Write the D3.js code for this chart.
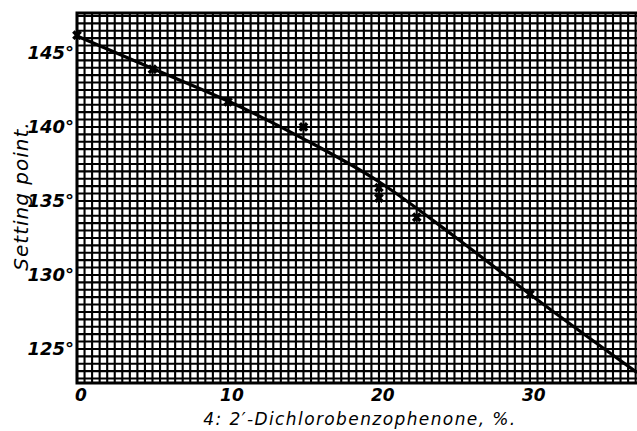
<!DOCTYPE html>
<html>
<head>
    <meta charset="utf-8">
    <script src="https://d3js.org/d3.v7.min.js"></script>
    <style>
        body { margin: 0; background: #fff; }
        text { font-family: "DejaVu Sans", sans-serif; font-style: italic; fill: #000; }
    </style>
</head>
<body>
<div id="chart"></div>
<script>
    // measured points (percent, setting point in degrees)
    var pctValues = [0, 5, 10, 15, 20, 20, 22.5, 30];
    var setValues = [146.2, 143.9, 141.7, 140.0, 135.9, 135.2, 133.9, 128.7];

    // drawn curve
    var curvePct = [0, 5, 10, 15, 20, 25, 30, 37.1];
    var curveSet = [146.15, 143.95, 141.75, 139.2, 136.3, 132.6, 128.7, 123.4];

    var xTicks = [0, 10, 20, 30];
    var yTicks = [125, 130, 135, 140, 145];

    var width = 637, height = 431;
    var mLeft = 77, mTop = 13, mRight = 637, mBottom = 383;

    var svg = d3.select("#chart").append("svg")
        .attr("width", width)
        .attr("height", height);

    var x = d3.scaleLinear().domain([0, 37.09]).range([mLeft, mRight]);
    var y = d3.scaleLinear().domain([122.7, 147.7]).range([mBottom, mTop]);

    // graph paper grid, every half unit
    var grid = svg.append("g").attr("stroke", "#000").attr("stroke-width", 2.1);
    grid.selectAll(".vx")
        .data(d3.range(0, 37.1, 0.5))
        .enter().append("line")
        .attr("x1", function (d) { return x(d); })
        .attr("x2", function (d) { return x(d); })
        .attr("y1", mTop).attr("y2", mBottom);
    grid.selectAll(".hy")
        .data(d3.range(123, 147.6, 0.5))
        .enter().append("line")
        .attr("y1", function (d) { return y(d); })
        .attr("y2", function (d) { return y(d); })
        .attr("x1", mLeft).attr("x2", mRight);

    // frame
    svg.append("path")
        .attr("d", "M" + mRight + "," + mTop + "H" + mLeft + "V" + mBottom + "H" + mRight)
        .attr("fill", "none")
        .attr("stroke", "#000")
        .attr("stroke-width", 3);

    // curve
    var line = d3.line()
        .x(function (d) { return x(d[0]); })
        .y(function (d) { return y(d[1]); })
        .curve(d3.curveMonotoneX);
    svg.append("path")
        .datum(d3.zip(curvePct, curveSet))
        .attr("d", line)
        .attr("fill", "none")
        .attr("stroke", "#000")
        .attr("stroke-width", 3.2);

    // crosses
    var cross = d3.symbol().type(d3.symbolCross).size(60);
    svg.append("g").selectAll("path")
        .data(d3.zip(pctValues, setValues))
        .enter().append("path")
        .attr("d", cross)
        .attr("transform", function (d) { return "translate(" + x(d[0]) + "," + y(d[1]) + ") rotate(45)"; })
        .attr("fill", "#000");

    // axes, labels only
    var xAxis = d3.axisBottom(x).tickValues(xTicks).tickSize(0).tickPadding(6);
    var gx = svg.append("g")
        .attr("transform", "translate(0," + mBottom + ")")
        .call(xAxis);
    gx.select(".domain").remove();
    gx.selectAll("text")
        .attr("dx", "0.2em")
        .style("font-size", "17px")
        .style("font-weight", "bold")
        .style("font-family", "DejaVu Sans")
        .style("font-style", "italic");

    var yAxis = d3.axisLeft(y).tickValues(yTicks).tickSize(0).tickPadding(3)
        .tickFormat(function (d) { return d + "°"; });
    var gy = svg.append("g")
        .attr("transform", "translate(" + mLeft + ",0)")
        .call(yAxis);
    gy.select(".domain").remove();
    gy.selectAll("text")
        .style("font-size", "18px")
        .style("font-weight", "bold")
        .style("font-family", "DejaVu Sans")
        .style("font-style", "italic");

    // axis titles
    svg.append("text")
        .attr("x", 360)
        .attr("y", 425)
        .attr("text-anchor", "middle")
        .style("font-size", "17px")
        .style("letter-spacing", "1.4px")
        .text("4: 2′-Dichlorobenzophenone, %.");

    svg.append("text")
        .attr("transform", "translate(28,196) rotate(-90)")
        .attr("text-anchor", "middle")
        .style("font-size", "20px")
        .style("letter-spacing", "1px")
        .text("Setting point.");
</script>
</body>
</html>
